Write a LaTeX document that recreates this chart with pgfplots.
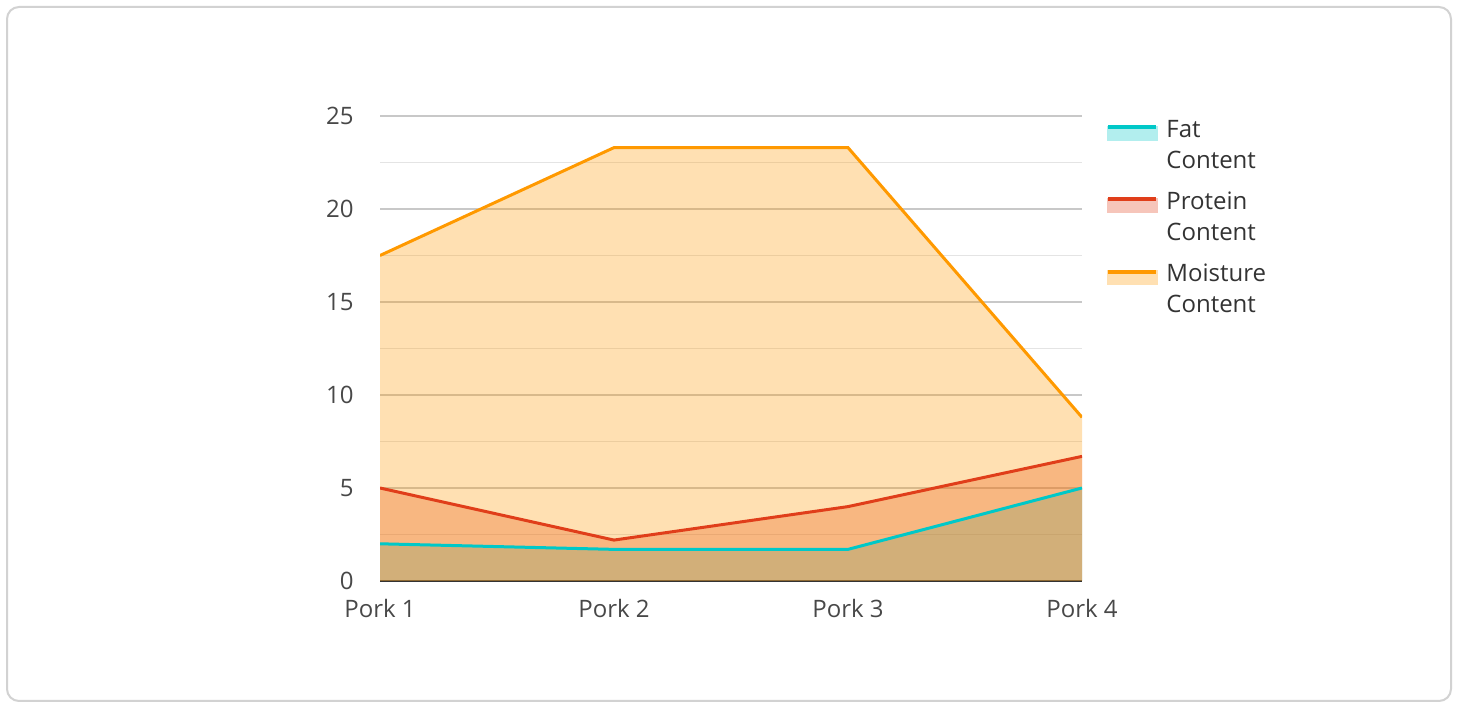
\documentclass[border=0pt]{standalone}
\usepackage{pgfplots}
\pgfplotsset{compat=1.18}
\usepackage{fontspec}
\setmainfont{Open Sans}
\definecolor{fatc}{RGB}{0,200,200}
\definecolor{protc}{RGB}{224,62,26}
\definecolor{moistc}{RGB}{255,153,0}
\definecolor{tickc}{RGB}{72,72,72}
\definecolor{legc}{RGB}{51,51,51}
\newcommand{\legtext}[2]{\begin{tabular}[t]{@{}l@{}}#1\\#2\end{tabular}}
\begin{document}
\fontsize{12}{15.5}\selectfont
\begin{tikzpicture}
\path[use as bounding box] (0,0) rectangle (729pt,351pt);
\draw[color={rgb,255:red,210;green,210;blue,210}, line width=1pt, rounded corners=6pt] (3.5pt,0.5pt) rectangle (725.5pt,347.5pt);
\begin{axis}[
  at={(190pt,60.5pt)}, anchor=south west,
  scale only axis, width=351pt, height=232.5pt,
  xmin=0, xmax=3, ymin=0, ymax=25,
  xtick={0,1,2,3}, xticklabels={Pork 1,Pork 2,Pork 3,Pork 4},
  ytick={0,5,...,25}, minor ytick={2.5,7.5,...,22.5},
  ymajorgrids, yminorgrids,
  major grid style={draw={rgb,255:red,200;green,200;blue,200}, line width=0.6pt},
  minor grid style={draw={rgb,255:red,228;green,228;blue,228}, line width=0.6pt},
  axis lines*=left,
  y axis line style={draw=none},
  x axis line style={draw={rgb,255:red,51;green,51;blue,51}, line width=1pt},
  major tick length=0pt, minor tick length=0pt,
  tick style={draw=none},
  /pgf/number format/assume math mode=true,
  ticklabel style={font=\fontsize{12}{14}\selectfont, text=tickc},
  yticklabel style={xshift=-9pt},
  xticklabel style={yshift=-5pt},
  legend style={at={(1,1)}, anchor=north west, xshift=12pt, yshift=0.5pt, draw=none, fill=none,
    inner sep=0pt, row sep=23.5pt, column sep=4pt,
    nodes={inner sep=0pt, text=legc, font=\fontsize{12}{15.5}\selectfont},
    cells={anchor=base west}},
]
\addplot[draw=none, fill=fatc, fill opacity=0.3, forget plot] coordinates {(0,2) (1,1.7) (2,1.7) (3,5)} \closedcycle;
\addplot[draw=none, fill=protc, fill opacity=0.3, forget plot] coordinates {(0,5) (1,2.2) (2,4) (3,6.7)} \closedcycle;
\addplot[draw=none, fill=moistc, fill opacity=0.3, forget plot] coordinates {(0,17.5) (1,23.3) (2,23.3) (3,8.8)} \closedcycle;
\addplot[color=fatc, line width=1.5pt, mark=none,
  legend image code/.code={\fill[fatc!30] (0pt,-1pt) rectangle (24pt,5pt); \draw[fatc, line width=2pt] (0pt,5pt)--(24pt,5pt);}]
  coordinates {(0,2) (1,1.7) (2,1.7) (3,5)};
\addlegendentry{\legtext{Fat}{Content}}
\addplot[color=protc, line width=1.5pt, mark=none,
  legend image code/.code={\fill[protc!30] (0pt,-1pt) rectangle (24pt,5pt); \draw[protc, line width=2pt] (0pt,5pt)--(24pt,5pt);}]
  coordinates {(0,5) (1,2.2) (2,4) (3,6.7)};
\addlegendentry{\legtext{Protein}{Content}}
\addplot[color=moistc, line width=1.5pt, mark=none,
  legend image code/.code={\fill[moistc!30] (0pt,-1pt) rectangle (24pt,5pt); \draw[moistc, line width=2pt] (0pt,5pt)--(24pt,5pt);}]
  coordinates {(0,17.5) (1,23.3) (2,23.3) (3,8.8)};
\addlegendentry{\legtext{Moisture}{Content}}
\end{axis}
\end{tikzpicture}
\end{document}
